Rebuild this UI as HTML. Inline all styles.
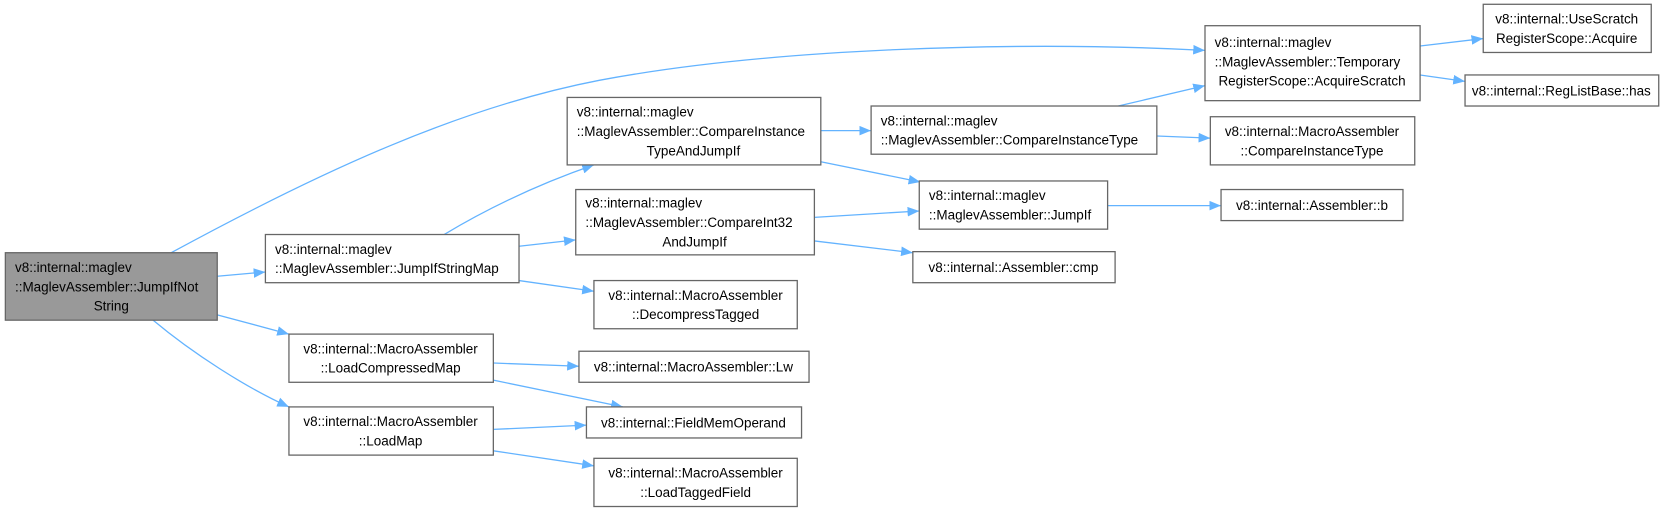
<!DOCTYPE html>
<html><head><meta charset="utf-8"><style>
html,body{margin:0;padding:0;background:#fff;}
svg{display:block;}
text{font-family:"Liberation Sans",sans-serif;font-size:12.6px;fill:#000;}
.b{fill:#fff;stroke:#666;stroke-width:1.2;}
.e{fill:none;stroke:#63b3ff;stroke-width:1.2;}
</style></head><body>
<svg width="1678" height="514" viewBox="0 0 1568 480" preserveAspectRatio="none" xmlns="http://www.w3.org/2000/svg">
<defs><marker id="a" markerWidth="11" markerHeight="9" refX="11" refY="4.5" orient="auto" markerUnits="userSpaceOnUse"><path d="M0,0 L11,4.5 L0,9 z" fill="#63b3ff"/></marker></defs>

<path class="e" marker-end="url(#a)" d="M160,236 C300,160 430,100 560,75 C720,45 950,38 1126,47"/>
<path class="e" marker-end="url(#a)" d="M203,258 L248,254"/>
<path class="e" marker-end="url(#a)" d="M203,294 L270,312"/>
<path class="e" marker-end="url(#a)" d="M143,299 C180,330 230,362 270,380"/>
<path class="e" marker-end="url(#a)" d="M415,219 Q480,180 555,154"/>
<path class="e" marker-end="url(#a)" d="M485,230 L538,224"/>
<path class="e" marker-end="url(#a)" d="M485,262 L555,272"/>
<path class="e" marker-end="url(#a)" d="M767,122 L814,122"/>
<path class="e" marker-end="url(#a)" d="M767,151 L860,170"/>
<path class="e" marker-end="url(#a)" d="M761,203 L859,197"/>
<path class="e" marker-end="url(#a)" d="M761,225 L853,236"/>
<path class="e" marker-end="url(#a)" d="M1045,99 L1126,80"/>
<path class="e" marker-end="url(#a)" d="M1081,127 L1131,129"/>
<path class="e" marker-end="url(#a)" d="M1035,192 L1141,192"/>
<path class="e" marker-end="url(#a)" d="M1327,43 L1386,36"/>
<path class="e" marker-end="url(#a)" d="M1327,70 L1369,76"/>
<path class="e" marker-end="url(#a)" d="M461,339 L541,342"/>
<path class="e" marker-end="url(#a)" d="M461,355 L582,380"/>
<path class="e" marker-end="url(#a)" d="M461,401 L548,397"/>
<path class="e" marker-end="url(#a)" d="M461,421 L555,435"/>

<rect x="5" y="236" width="198" height="63" fill="#999" stroke="#666" stroke-width="1.2"/>
<text x="14" y="254">v8::internal::maglev</text>
<text x="14" y="272">::MaglevAssembler::JumpIfNot</text>
<text x="104" y="290" text-anchor="middle">String</text>

<rect class="b" x="248" y="219" width="237" height="45"/>
<text x="257" y="237">v8::internal::maglev</text>
<text x="257" y="255">::MaglevAssembler::JumpIfStringMap</text>

<rect class="b" x="530" y="91" width="237" height="63"/>
<text x="539" y="109">v8::internal::maglev</text>
<text x="539" y="127">::MaglevAssembler::CompareInstance</text>
<text x="648" y="145" text-anchor="middle">TypeAndJumpIf</text>

<rect class="b" x="538" y="177" width="223" height="61"/>
<text x="547" y="194">v8::internal::maglev</text>
<text x="547" y="212">::MaglevAssembler::CompareInt32</text>
<text x="649" y="230" text-anchor="middle">AndJumpIf</text>

<rect class="b" x="555" y="262" width="190" height="45"/>
<text x="650" y="280" text-anchor="middle">v8::internal::MacroAssembler</text>
<text x="650" y="298" text-anchor="middle">::DecompressTagged</text>

<rect class="b" x="270" y="312" width="191" height="45"/>
<text x="365" y="330" text-anchor="middle">v8::internal::MacroAssembler</text>
<text x="365" y="348" text-anchor="middle">::LoadCompressedMap</text>

<rect class="b" x="270" y="380" width="191" height="45"/>
<text x="365" y="398" text-anchor="middle">v8::internal::MacroAssembler</text>
<text x="365" y="416" text-anchor="middle">::LoadMap</text>

<rect class="b" x="541" y="328" width="215" height="29"/>
<text x="648" y="347" text-anchor="middle">v8::internal::MacroAssembler::Lw</text>

<rect class="b" x="548" y="380" width="201" height="29"/>
<text x="648" y="399" text-anchor="middle">v8::internal::FieldMemOperand</text>

<rect class="b" x="555" y="428" width="190" height="45"/>
<text x="650" y="446" text-anchor="middle">v8::internal::MacroAssembler</text>
<text x="650" y="464" text-anchor="middle">::LoadTaggedField</text>

<rect class="b" x="814" y="99" width="267" height="45"/>
<text x="823" y="117">v8::internal::maglev</text>
<text x="823" y="135">::MaglevAssembler::CompareInstanceType</text>

<rect class="b" x="859" y="169" width="176" height="45"/>
<text x="868" y="187">v8::internal::maglev</text>
<text x="868" y="205">::MaglevAssembler::JumpIf</text>

<rect class="b" x="853" y="235" width="189" height="29"/>
<text x="947" y="254" text-anchor="middle">v8::internal::Assembler::cmp</text>

<rect class="b" x="1126" y="24" width="201" height="70"/>
<text x="1135" y="44">v8::internal::maglev</text>
<text x="1135" y="62">::MaglevAssembler::Temporary</text>
<text x="1226" y="80" text-anchor="middle">RegisterScope::AcquireScratch</text>

<rect class="b" x="1131" y="109" width="191" height="45"/>
<text x="1226" y="127" text-anchor="middle">v8::internal::MacroAssembler</text>
<text x="1226" y="145" text-anchor="middle">::CompareInstanceType</text>

<rect class="b" x="1141" y="177" width="170" height="29"/>
<text x="1226" y="196" text-anchor="middle">v8::internal::Assembler::b</text>

<rect class="b" x="1386" y="4" width="157" height="45"/>
<text x="1464" y="22" text-anchor="middle">v8::internal::UseScratch</text>
<text x="1464" y="40" text-anchor="middle">RegisterScope::Acquire</text>

<rect class="b" x="1369" y="70" width="181" height="29"/>
<text x="1459" y="89" text-anchor="middle">v8::internal::RegListBase::has</text>
</svg>
</body></html>
